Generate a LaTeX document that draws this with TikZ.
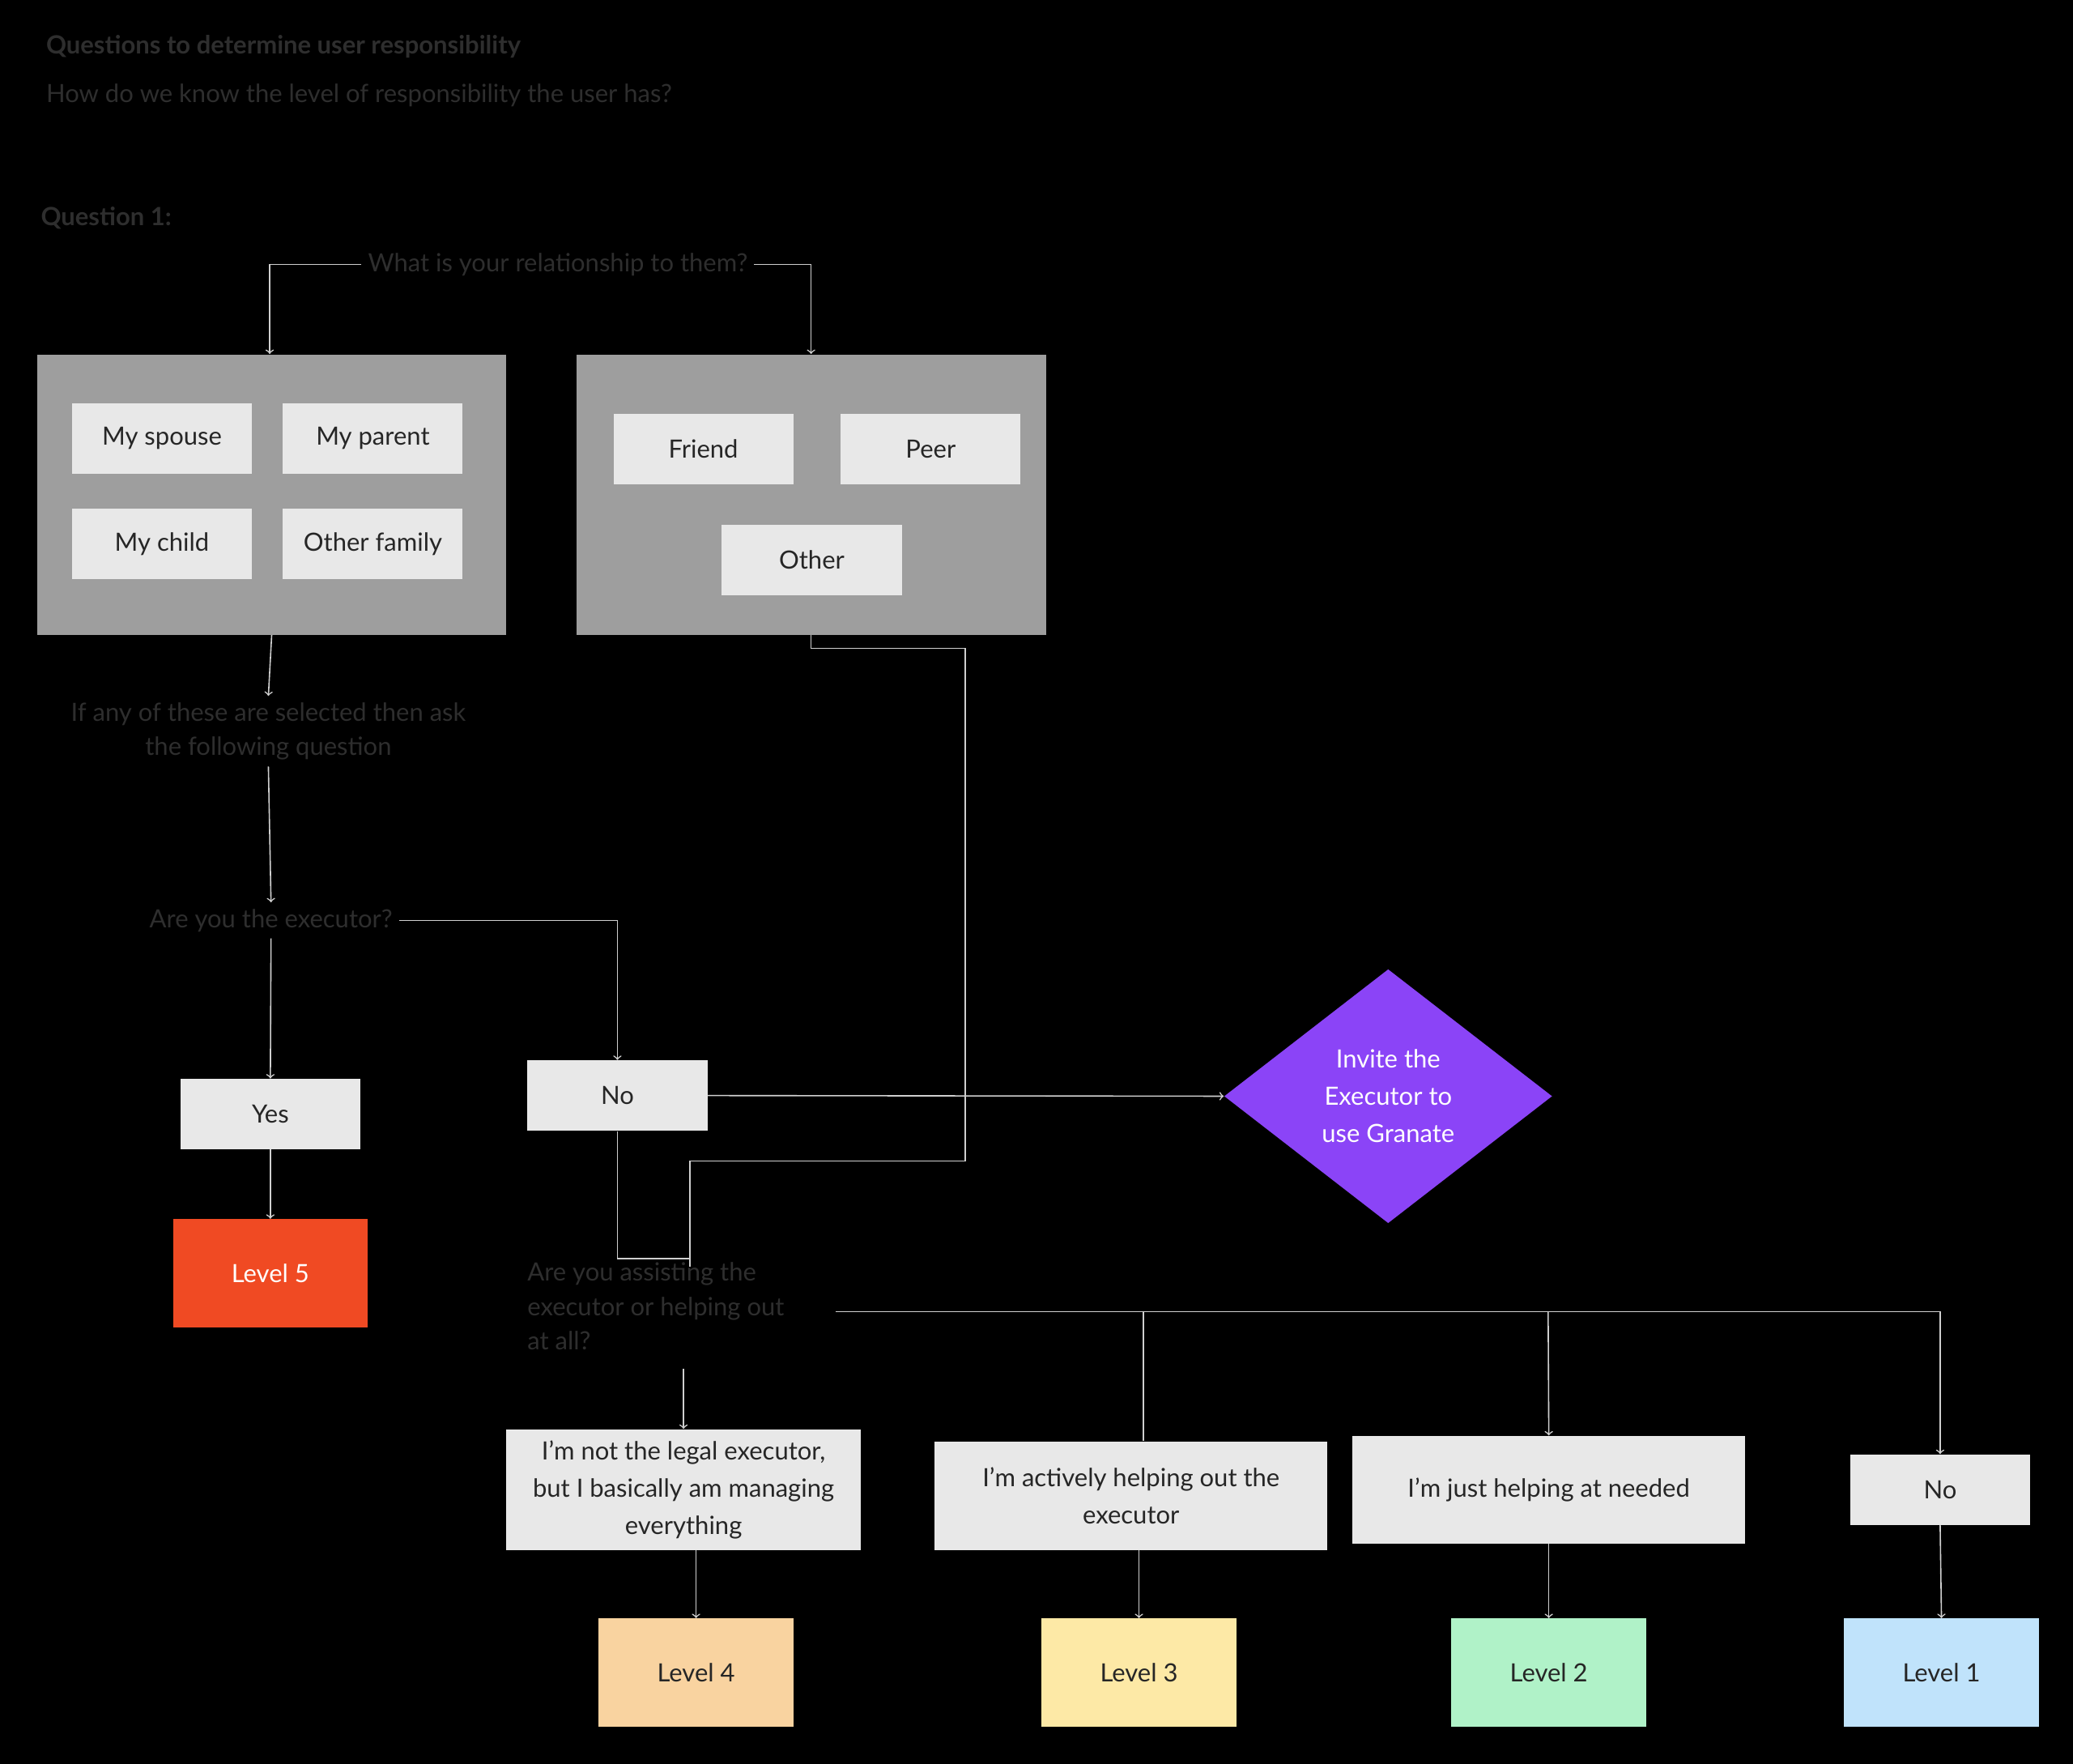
\documentclass[tikz,border=0pt]{standalone}
\usepackage{fontspec}
\setmainfont{Lato}
\usetikzlibrary{shapes.geometric}
\definecolor{dim}{HTML}{2E2E2E}
\definecolor{wire}{HTML}{CFCFCF}
\definecolor{group}{HTML}{9E9E9E}
\definecolor{chip}{HTML}{E8E8E8}
\definecolor{lvfive}{HTML}{F04A23}
\definecolor{lvfour}{HTML}{F9D3A0}
\definecolor{lvthree}{HTML}{FDE9A6}
\definecolor{lvtwo}{HTML}{B0F2C8}
\definecolor{lvone}{HTML}{C0E3FB}
\definecolor{invite}{HTML}{8B44F7}
\tikzset{
  wire/.style={draw=wire,line width=0.7pt},
  arr/.style={wire,->,>=to},
  chip/.style={fill=chip,minimum width=3.4cm,minimum height=1.33cm,font=\fontsize{13.5}{20}\selectfont,align=center,text=black!85},
  lvl/.style={minimum width=3.68cm,minimum height=2.05cm,font=\fontsize{13.5}{20}\selectfont,text=black!85},
  dimtxt/.style={text=dim,font=\fontsize{13.5}{18.5}\selectfont},
}
\begin{document}
\begin{tikzpicture}[x=0.025cm,y=-0.025cm]
  \fill[black] (0,0) rectangle (1568,1334);
  \useasboundingbox (0,0) rectangle (1568,1334);

  % header
  \node[dimtxt,anchor=west,font=\fontsize{13.5}{18}\selectfont\bfseries] (title) at (30,35) {Questions to determine user responsibility};
  \node[dimtxt,anchor=west] (sub) at (30,72) {How do we know the level of responsibility the user has?};
  \node[dimtxt,anchor=west,font=\fontsize{13.5}{18}\selectfont\bfseries] (q1) at (26,165) {Question 1:};

  % question 1
  \node[dimtxt] (rel) at (422,200) {What is your relationship to them?};
  \node[fill=group,minimum width=8.875cm,minimum height=5.3cm] (family) at (205.5,374) {};
  \node[fill=group,minimum width=8.875cm,minimum height=5.3cm] (others) at (613.5,374) {};
  \node[chip] (spouse) at (122.5,331.5) {My spouse};
  \node[chip] (parent) at (282,331.5) {My parent};
  \node[chip] (child)  at (122.5,411.5) {My child};
  \node[chip] (ofam)   at (282,411.5) {Other family};
  \node[chip] (friend) at (532,339.5) {Friend};
  \node[chip] (peer)   at (704,339.5) {Peer};
  \node[chip] (other)  at (614,423.5) {Other};
  \draw[arr] (rel.west) -| (family.north -| 204,0);
  \draw[arr] (rel.east) -| (others.north);

  \node[dimtxt,align=center] (ifany) at (203,553) {If any of these are selected then ask\\the following question};
  \draw[arr] (family.south) -- (ifany.north);

  % executor
  \node[dimtxt] (exec) at (205,696) {Are you the executor?};
  \draw[arr] (ifany.south) -- (exec.north);
  \node[chip] (yes) at (204.5,842.5) {Yes};
  \node[chip] (no)  at (467,828.5) {No};
  \node[lvl,fill=lvfive,text=white] (l5) at (204.5,963) {Level 5};
  \draw[arr] (exec.south) -- (yes.north);
  \draw[arr] (exec.east) -| (no.north);
  \draw[arr] (yes.south) -- (l5.north);

  \node[diamond,fill=invite,minimum width=6.2cm,minimum height=4.8cm,inner sep=0pt,
        text=white,align=center,font=\fontsize{13.5}{20}\selectfont] (inv) at (1050,829) {Invite the\\Executor to\\use Granate};
  \draw[arr] (no.east) -- (inv.west);

  % assisting
  \node[dimtxt,anchor=north west,align=left] (assist) at (394,950) {Are you assisting the\\executor or helping out\\at all?};
  \coordinate (join) at (522,952);
  \draw[wire] (others.south) -- ++(0,10) -| (730,878) -| (522,958);
  \draw[wire] (no.south) |- (join);

  \node[chip,minimum width=6.7cm,minimum height=2.28cm] (b4) at (517,1126.5) {I’m not the legal executor,\\but I basically am managing\\everything};
  \node[chip,minimum width=7.42cm,minimum height=2.05cm] (b3) at (855.5,1131) {I’m actively helping out the\\executor};
  \node[chip,minimum width=7.42cm,minimum height=2.03cm] (b2) at (1171.5,1126.5) {I’m just helping at needed};
  \node[chip] (b1) at (1467.5,1126.5) {No};
  \draw[arr] (517,1035) -- (b4.north);
  \draw[arr] (632,992) -| (b1.north);
  \draw[wire] (865,992) -- (b3.north -| 865,0);
  \draw[arr] (1171,992) -- (b2.north);

  \node[lvl,fill=lvfour]  (l4) at (526.5,1265) {Level 4};
  \node[lvl,fill=lvthree] (l3) at (861.5,1265) {Level 3};
  \node[lvl,fill=lvtwo]   (l2) at (1171.5,1265) {Level 2};
  \node[lvl,fill=lvone]   (l1) at (1468.5,1265) {Level 1};
  \draw[arr] (b4.south -| l4) -- (l4.north);
  \draw[arr] (b3.south -| l3) -- (l3.north);
  \draw[arr] (b2.south) -- (l2.north);
  \draw[arr] (b1.south) -- (l1.north);
\end{tikzpicture}
\end{document}
